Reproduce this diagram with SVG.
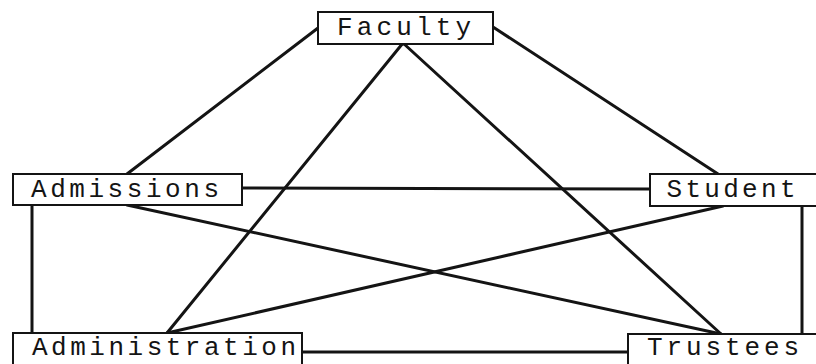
<svg xmlns="http://www.w3.org/2000/svg" width="816" height="364" viewBox="0 0 816 364">
<style>
.box{fill:#fff;stroke:#141414;stroke-width:2}
.lbl{font-family:"Liberation Mono","Courier New",monospace;font-size:26px;fill:#141414;text-anchor:middle}
.con{stroke:#141414;stroke-width:3;fill:none;stroke-linecap:round}
</style>
<rect x="0" y="0" width="816" height="364" fill="#fff"/>
<g id="connectors">
<line class="con" x1="318" y1="28" x2="127" y2="174"/>
<line class="con" x1="493" y1="27" x2="718" y2="174"/>
<line class="con" x1="403" y1="43" x2="167" y2="333"/>
<line class="con" x1="403" y1="43" x2="721" y2="334"/>
<line class="con" x1="242" y1="188" x2="650" y2="189"/>
<line class="con" x1="127" y1="205" x2="721" y2="334"/>
<line class="con" x1="723" y1="206" x2="167" y2="333"/>
<line class="con" x1="32" y1="205" x2="32" y2="333"/>
<line class="con" x1="802" y1="206" x2="802" y2="334"/>
<line class="con" x1="302" y1="352" x2="628" y2="352"/>
<circle cx="403" cy="43" r="2.5" fill="#141414"/>
</g>
<g id="faculty">
<rect class="box" x="318" y="12" width="175" height="32"/>
<text class="lbl" x="404" y="35" textLength="134" lengthAdjust="spacing">Faculty</text>
</g>
<g id="admissions">
<rect class="box" x="13" y="174" width="229" height="31"/>
<text class="lbl" x="125" y="197" textLength="188" lengthAdjust="spacing">Admissions</text>
</g>
<g id="student">
<rect class="box" x="650" y="174" width="180" height="32"/>
<text class="lbl" x="731" y="197" textLength="129" lengthAdjust="spacing">Student</text>
</g>
<g id="administration">
<rect class="box" x="13" y="333" width="289" height="40"/>
<text class="lbl" x="164" y="355" textLength="264" lengthAdjust="spacing">Administration</text>
</g>
<g id="trustees">
<rect class="box" x="628" y="334" width="200" height="40"/>
<text class="lbl" x="723" y="355" textLength="152" lengthAdjust="spacing">Trustees</text>
</g>
</svg>
